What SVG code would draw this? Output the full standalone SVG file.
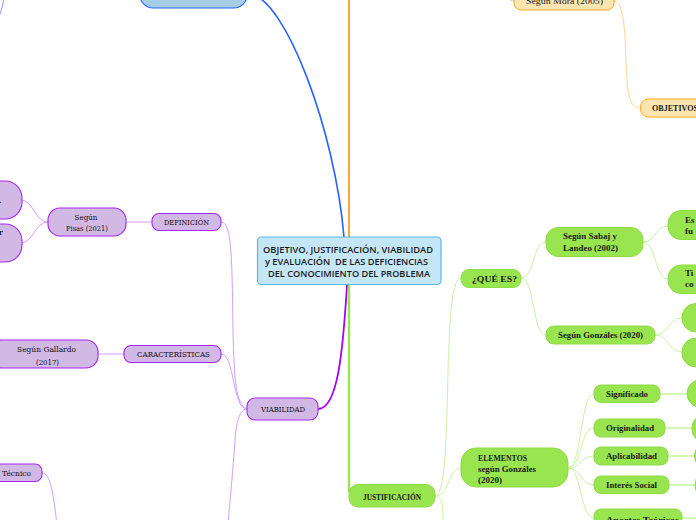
<svg xmlns="http://www.w3.org/2000/svg" width="696" height="520" viewBox="0 0 696 520">
<style>
.g rect{fill:#99e550;stroke:#8ddc44;stroke-width:1}
.p rect{fill:#d2b8e4;stroke:#a526f5;stroke-width:1.1}
.o rect{fill:#fde5b0;stroke:#ffa726;stroke-width:1}
.gt{font-family:"Liberation Serif",serif;font-weight:bold;font-size:9px;fill:#1a1a1a}
.pt{font-family:"DejaVu Serif",serif;font-size:8.2px;fill:#111111}
.ct{font-family:"Open Sans","Noto Sans",sans-serif;font-weight:600;font-size:8.7px;fill:#1a1a1a}
.cg{fill:none;stroke:#c9f3a4;stroke-width:1}
.cg2{fill:none;stroke:#d2f5b1;stroke-width:1.8}
.cp{fill:none;stroke:#d59cff;stroke-width:1}
.co{fill:none;stroke:#ffd494;stroke-width:1}
</style>
<rect width="696" height="520" fill="#ffffff"/>
<g id="connectors">
  <path d="M 250 -6 C 285 -2 335 130 344 237" fill="none" stroke="#2962ff" stroke-width="1.6"/>
  <path d="M 4 -2 C 3 5 1 12 -1 16" fill="none" stroke="#6a8cff" stroke-width="0.9"/>
  <path d="M 349 -10 L 349 237" fill="none" stroke="#ffa530" stroke-width="2"/>
  <path d="M 514 1 C 505 1 505 -10 495 -10" class="co"/>
  <path d="M 614 1 C 628 1 624 60 628 90 C 630 104 634 108 641 108" class="co"/>
  <path d="M 347 285 C 343 350 338 409 318 409" fill="none" stroke="#a300ff" stroke-width="1.8"/>
  <path d="M 349 285 L 349 492" fill="none" stroke="#99e550" stroke-width="2.4"/>
  <path d="M 247 409 C 236 405 234 380 233 330 C 232 260 232 222 221 222" class="cp"/>
  <path d="M 247 409 C 232 409 235 354 221 354" class="cp"/>
  <path d="M 247 409 C 239 409 236 425 235 440 C 233 470 230 500 228 525" class="cp"/>
  <path d="M 42 473 C 50 473 53 490 57 525" class="cp"/>
  <path d="M 152 222 L 126 222" class="cp"/>
  <path d="M 124 354 L 98 354" class="cp"/>
  <path d="M 48 222 C 35 222 33 200 21 200" class="cp"/>
  <path d="M 48 222 C 35 222 33 243 21 243" class="cp"/>
  <path d="M 435 496 C 455 496 440 278 461 278" class="cg"/>
  <path d="M 435 496 C 450 496 448 468 461 468" class="cg"/>
  <path d="M 435 496 C 442 496 443 505 443 525" class="cg"/>
  <path d="M 521 278 C 535 278 532 242 546 242" class="cg"/>
  <path d="M 521 278 C 535 278 532 335 546 335" class="cg"/>
  <path d="M 643 242 C 656 242 655 226 668 226" class="cg"/>
  <path d="M 643 242 C 656 242 655 279 668 279" class="cg"/>
  <path d="M 655 335 C 669 335 668 318 682 318" class="cg"/>
  <path d="M 655 335 C 669 335 668 352 682 352" class="cg"/>
  <path d="M 568 468 C 582 468 580 394 594 394" class="cg"/>
  <path d="M 568 468 C 582 468 580 428 594 428" class="cg"/>
  <path d="M 568 468 C 582 468 580 456 594 456" class="cg"/>
  <path d="M 568 468 C 582 468 580 485 594 485" class="cg"/>
  <path d="M 568 468 C 582 468 580 518 594 518" class="cg"/>
  <path d="M 660 394 L 687 394" class="cg2"/>
  <path d="M 665 428 L 692 428" class="cg2"/>
  <path d="M 668 456 L 696 456" class="cg2"/>
  <path d="M 669 485 L 696 485" class="cg2"/>
  <path d="M 682 518 L 696 518" class="cg2"/>
</g>
<g id="n-blue"><rect x="140" y="-30" width="107" height="38" rx="13" fill="#a7cde6" stroke="#2962ff" stroke-width="1.1"/></g>
<g id="n-central">
  <rect x="257.5" y="237" width="183.5" height="47.5" rx="4" fill="#c5e6f7" stroke="#58b7e8" stroke-width="1.2"/>
  <text class="ct" x="263" y="253" textLength="170" lengthAdjust="spacingAndGlyphs">OBJETIVO, JUSTIFICACIÓN, VIABILIDAD</text>
  <text class="ct" x="265" y="265" textLength="163" lengthAdjust="spacingAndGlyphs" style="white-space:pre">y EVALUACIÓN  DE LAS DEFICIENCIAS</text>
  <text class="ct" x="268" y="276.5" textLength="162" lengthAdjust="spacingAndGlyphs">DEL CONOCIMIENTO DEL PROBLEMA</text>
</g>
<g id="n-mora" class="o"><rect x="514" y="-20" width="100" height="30" rx="7"/><text class="gt" style="font-weight:normal" x="526" y="3.5" textLength="77" lengthAdjust="spacingAndGlyphs">Según Mora (2005)</text></g>
<g id="n-objetivos" class="o"><rect x="640.5" y="99" width="80" height="18" rx="8"/><text class="gt" x="652" y="110.5" textLength="46" lengthAdjust="spacingAndGlyphs">OBJETIVOS</text></g>
<g id="n-pis-a" class="p"><rect x="-80" y="181" width="102" height="38" rx="17"/><text class="pt" style="font-weight:bold" x="-1.5" y="202.5">.</text></g>
<g id="n-pis-b" class="p"><rect x="-80" y="224" width="102" height="38" rx="17"/><text class="pt" style="font-weight:bold" x="-1.5" y="235">r</text></g>
<g id="n-pisas" class="p"><rect x="48" y="208" width="78" height="28" rx="12"/><text class="pt" x="86" y="220" text-anchor="middle" textLength="23" lengthAdjust="spacingAndGlyphs">Según</text><text class="pt" x="66" y="231" textLength="42" lengthAdjust="spacingAndGlyphs">Pisas (2021)</text></g>
<g id="n-definicion" class="p"><rect x="152" y="213.5" width="69" height="17" rx="7"/><text class="pt" x="164" y="225" textLength="45" lengthAdjust="spacingAndGlyphs">DEFINICIÓN</text></g>
<g id="n-gallardo" class="p"><rect x="-10" y="340" width="108" height="28" rx="12"/><text class="pt" x="17" y="352" textLength="59" lengthAdjust="spacingAndGlyphs">Según Gallardo</text><text class="pt" x="36" y="364.5" textLength="23" lengthAdjust="spacingAndGlyphs">(2017)</text></g>
<g id="n-caracteristicas" class="p"><rect x="124" y="345.5" width="97" height="17" rx="7"/><text class="pt" x="137" y="357" textLength="73" lengthAdjust="spacingAndGlyphs">CARACTERÍSTICAS</text></g>
<g id="n-viabilidad" class="p"><rect x="247" y="398" width="71" height="22" rx="8"/><text class="pt" x="261" y="412" textLength="44" lengthAdjust="spacingAndGlyphs">VIABILIDAD</text></g>
<g id="n-tecnico" class="p"><rect x="-20" y="464" width="62" height="17.5" rx="7"/><text class="pt" x="2" y="476" textLength="29" lengthAdjust="spacingAndGlyphs">Técnico</text></g>
<g id="n-justificacion" class="g"><rect x="349" y="484.5" width="86" height="22.5" rx="9"/><text class="gt" x="363" y="499.5" textLength="58" lengthAdjust="spacingAndGlyphs">JUSTIFICACIÓN</text></g>
<g id="n-quees" class="g"><rect x="461" y="269.5" width="60" height="18" rx="8"/><text class="gt" x="472" y="282" textLength="45" lengthAdjust="spacingAndGlyphs">¿QUÉ ES?</text></g>
<g id="n-sabaj" class="g"><rect x="546" y="227.5" width="97" height="29" rx="12"/><text class="gt" x="563" y="239" textLength="54" lengthAdjust="spacingAndGlyphs">Según Sabaj y</text><text class="gt" x="563" y="251" textLength="55" lengthAdjust="spacingAndGlyphs">Landeo (2002)</text></g>
<g id="n-es" class="g"><rect x="668" y="210.5" width="60" height="29" rx="13"/><text class="gt" x="685" y="223">Es</text><text class="gt" x="685" y="234">fu</text></g>
<g id="n-ti" class="g"><rect x="668" y="265" width="60" height="28.5" rx="13"/><text class="gt" x="685" y="276">Ti</text><text class="gt" x="685" y="287">co</text></g>
<g id="n-gonzales" class="g"><rect x="546" y="326" width="109" height="18" rx="8"/><text class="gt" x="558" y="338" textLength="85" lengthAdjust="spacingAndGlyphs">Según Gonzáles (2020)</text></g>
<g id="n-gz-a" class="g"><rect x="682" y="303.5" width="40" height="28.5" rx="14"/></g>
<g id="n-gz-b" class="g"><rect x="682" y="338" width="40" height="29" rx="14"/></g>
<g id="n-elementos" class="g"><rect x="461" y="448" width="107" height="39" rx="15"/><text class="gt" x="478" y="460.5" textLength="49" lengthAdjust="spacingAndGlyphs">ELEMENTOS</text><text class="gt" x="478" y="471.5" textLength="58" lengthAdjust="spacingAndGlyphs">según Gonzáles</text><text class="gt" x="478" y="482.5" textLength="24" lengthAdjust="spacingAndGlyphs">(2020)</text></g>
<g id="n-significado" class="g"><rect x="594" y="385" width="66" height="17.5" rx="7"/><text class="gt" x="606" y="397" textLength="42" lengthAdjust="spacingAndGlyphs">Significado</text></g>
<g id="n-originalidad" class="g"><rect x="594" y="419" width="71" height="18" rx="7"/><text class="gt" x="606" y="431" textLength="48" lengthAdjust="spacingAndGlyphs">Originalidad</text></g>
<g id="n-aplicabilidad" class="g"><rect x="594" y="447" width="74" height="18" rx="7"/><text class="gt" x="606" y="459" textLength="51" lengthAdjust="spacingAndGlyphs">Aplicabilidad</text></g>
<g id="n-interes" class="g"><rect x="594" y="476" width="75" height="17.5" rx="7"/><text class="gt" x="606" y="488" textLength="51" lengthAdjust="spacingAndGlyphs">Interés Social</text></g>
<g id="n-aportes" class="g"><rect x="594" y="509" width="88" height="20" rx="7"/><text class="gt" x="606" y="522.5" textLength="73" lengthAdjust="spacingAndGlyphs">Aportes Teóricos</text></g>
<g id="n-sig-c" class="g"><rect x="687" y="379.5" width="40" height="28" rx="14"/></g>
<g id="n-ori-c" class="g"><rect x="692" y="414" width="40" height="29" rx="14"/></g>
<g id="n-apl-c" class="g"><rect x="694.5" y="442" width="40" height="28" rx="14"/></g>
<g id="n-int-c" class="g"><rect x="695" y="471" width="40" height="28" rx="14"/></g>
</svg>
